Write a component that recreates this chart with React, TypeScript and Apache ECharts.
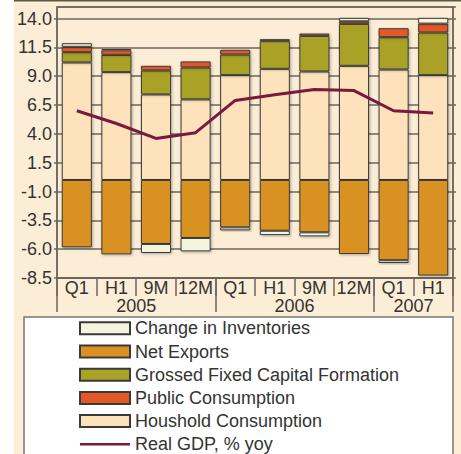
import React, { useEffect, useRef } from "react";
import * as echarts from "echarts";

const categories = ["Q1", "H1", "9M", "12M", "Q1", "H1", "9M", "12M", "Q1", "H1"];
const yearLabels = ["2005", "2006", "2007"];
const yearCenters = [2, 6, 9];
const yearBounds = [0, 4, 8, 10];

const household = [10.19, 9.35, 7.42, 6.99, 9.09, 9.64, 9.41, 9.9, 9.58, 9.09];
const gfcf = [0.89, 1.5, 2.08, 2.77, 1.79, 2.39, 3.09, 3.64, 2.8, 3.7];
const publicCons = [0.47, 0.4, 0.4, 0.52, 0.41, 0.18, 0.2, 0.22, 0.78, 0.77];
const netExports = [-5.84, -6.45, -5.55, -5.03, -4.11, -4.4, -4.54, -6.42, -6.96, -8.29];
const inventories = [0.31, 0.1, -0.78, -1.16, -0.26, -0.38, -0.35, 0.3, -0.24, 0.5];
const realGdp = [6.0, 4.9, 3.6, 4.1, 6.9, 7.4, 7.85, 7.75, 6.0, 5.8];

const FONT = "'Liberation Sans', Arial, sans-serif";
const TEXT = "#333333";
const LINE = "#6d665e";
const BG = "#fcedd6";
const GDP_COLOR = "#7a183e";
const FS = 18;

export default function App() {
  const ref = useRef<HTMLDivElement>(null);
  useEffect(() => {
    if (!ref.current) return;
    const chart = echarts.init(ref.current, undefined, { renderer: "svg" });
    const barStyle = (color: string) => ({
      color,
      borderColor: "#3a3a3a",
      borderWidth: 1,
      shadowBlur: 3,
      shadowColor: "rgba(0,0,0,0.3)",
      shadowOffsetX: 1,
      shadowOffsetY: 1,
    });
    const bar = (name: string, data: number[], color: string) => ({
      name,
      type: "bar",
      stack: "total",
      data,
      barWidth: "76%",
      itemStyle: barStyle(color),
      xAxisIndex: 0,
      yAxisIndex: 0,
    });
    chart.setOption({
      animation: false,
      textStyle: { fontFamily: FONT },
      graphic: {
        elements: [
          { type: "rect", z: -20, shape: { x: 14, y: 0, width: 447, height: 454 }, style: { fill: BG } },
          { type: "rect", z: -19, shape: { x: 14, y: 0, width: 447, height: 1.5 }, style: { fill: "#5b5a3c" } },
          {
            type: "rect",
            z: -18,
            shape: { x: 24, y: 317, width: 429, height: 200 },
            style: { fill: "#ffffff", stroke: "#777777", lineWidth: 1.5 },
          },
        ],
      },
      grid: {
        left: 57,
        top: 7,
        right: 8,
        bottom: 176,
        show: true,
        borderColor: LINE,
        borderWidth: 1.5,
        backgroundColor: "transparent",
      },
      legend: {
        orient: "vertical",
        left: 79,
        top: 319.3,
        padding: 0,
        icon: "rect",
        itemWidth: 50,
        itemHeight: 12,
        itemGap: 5.2,
        data: [
          "Change in Inventories",
          "Net Exports",
          "Grossed Fixed Capital Formation",
          "Public Consumption",
          "Houshold Consumption",
          { name: "Real GDP, % yoy", icon: "path://M0 0H50V2.5H0Z", itemStyle: { color: GDP_COLOR, borderWidth: 0 } },
        ],
        textStyle: { fontSize: FS, color: TEXT, fontFamily: FONT, lineHeight: 18 },
      },
      xAxis: [
        {
          type: "category",
          data: categories,
          position: "bottom",
          axisLine: { show: true, onZero: false, lineStyle: { color: LINE, width: 1.5 } },
          axisTick: { show: true, interval: 0, length: 18, lineStyle: { color: LINE, width: 1.5 } },
          axisLabel: { fontSize: FS, color: TEXT, margin: 1, interval: 0, fontFamily: FONT },
        },
        {
          type: "value",
          min: 0,
          max: 10,
          position: "bottom",
          axisLine: { show: true, onZero: false, lineStyle: { color: LINE, width: 1.5 } },
          splitLine: { show: false },
          axisTick: { show: true, length: 34, customValues: yearBounds, lineStyle: { color: LINE, width: 1.5 } },
          axisLabel: {
            fontSize: FS,
            color: TEXT,
            margin: 19,
            fontFamily: FONT,
            customValues: yearCenters,
            formatter: (v: number) => {
              const i = yearCenters.indexOf(v);
              return i >= 0 ? yearLabels[i] : "";
            },
          },
        },
      ],
      yAxis: [
        {
          type: "value",
          min: -8.5,
          max: 15,
          interval: 2.5,
          axisLine: { show: true, lineStyle: { color: LINE, width: 1.5 } },
          axisTick: { show: true, length: 3, lineStyle: { color: LINE, width: 1.5 } },
          axisLabel: {
            fontSize: FS,
            color: TEXT,
            margin: 5,
            showMaxLabel: false,
            fontFamily: FONT,
            formatter: (v: number) => v.toFixed(1),
          },
          splitLine: { show: true, lineStyle: { color: LINE, width: 1.5 } },
        },
        {
          type: "value",
          min: -8.5,
          max: 15,
          interval: 2.5,
          position: "right",
          axisLine: { show: true, lineStyle: { color: LINE, width: 1.5 } },
          axisTick: { show: true, length: 3, lineStyle: { color: LINE, width: 1.5 } },
          axisLabel: { show: false },
          splitLine: { show: false },
        },
      ],
      series: [
        bar("Houshold Consumption", household, "#fde2bb"),
        bar("Grossed Fixed Capital Formation", gfcf, "#aaa226"),
        bar("Public Consumption", publicCons, "#e25827"),
        bar("Net Exports", netExports, "#d99222"),
        bar("Change in Inventories", inventories, "#f4f5de"),
        {
          name: "Real GDP, % yoy",
          type: "line",
          data: realGdp,
          xAxisIndex: 0,
          yAxisIndex: 0,
          symbol: "none",
          showSymbol: false,
          z: 5,
          lineStyle: { color: GDP_COLOR, width: 3 },
          itemStyle: { color: GDP_COLOR },
        },
      ],
    });
    return () => chart.dispose();
  }, []);
  return (
    <div
      ref={ref}
      style={{ position: "absolute", left: 0, top: 0, width: 461, height: 454 }}
    />
  );
}
